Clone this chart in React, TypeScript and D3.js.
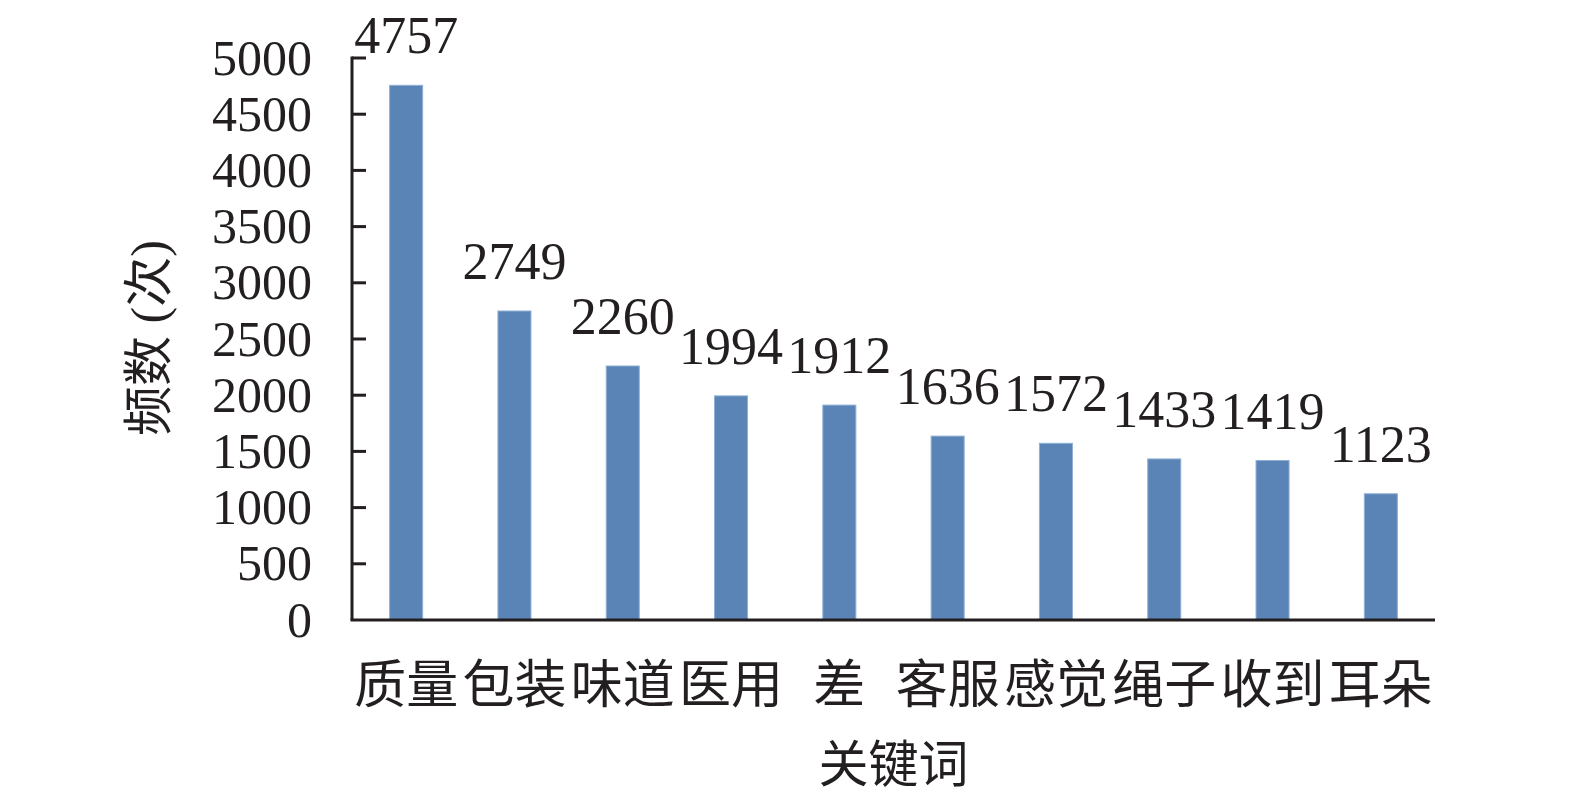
import { useMemo } from 'react';
import * as d3 from 'd3';

const categories = ['质量', '包装', '味道', '医用', '差', '客服', '感觉', '绳子', '收到', '耳朵'];
const counts = [4757, 2749, 2260, 1994, 1912, 1636, 1572, 1433, 1419, 1123];
const yTicks = [0, 500, 1000, 1500, 2000, 2500, 3000, 3500, 4000, 4500, 5000];

const WIDTH = 1575;
const HEIGHT = 801;
const PLOT = { left: 352, right: 1435, top: 58, bottom: 620 };
const BAR_COLOR = '#5a84b6';
const INK = '#231f20';
const NUM_FONT = '"Liberation Serif", "Times New Roman", serif';
const CJK_FONT = '"Liberation Serif", "Noto Sans CJK SC", serif';

export default function App() {
  const x = useMemo(
    () =>
      d3
        .scaleBand<string>()
        .domain(categories)
        .range([PLOT.left, PLOT.right])
        .paddingInner(0.695)
        .paddingOuter(0.3475),
    []
  );
  const y = useMemo(
    () => d3.scaleLinear().domain([0, 5000]).range([PLOT.bottom, PLOT.top]),
    []
  );

  return (
    <svg
      width={WIDTH}
      height={HEIGHT}
      viewBox={`0 0 ${WIDTH} ${HEIGHT}`}
      style={{ position: 'absolute', left: 0, top: 0, background: '#fff' }}
    >
      {/* bars */}
      {categories.map((c, i) => (
        <rect
          key={c}
          x={x(c)}
          y={y(counts[i])}
          width={x.bandwidth()}
          height={y(0) - y(counts[i])}
          fill={BAR_COLOR}
          stroke="#8fb0d6"
          strokeWidth={1}
        />
      ))}

      {/* value labels */}
      {categories.map((c, i) => (
        <text
          key={`v-${c}`}
          x={(x(c) ?? 0) + x.bandwidth() / 2}
          y={y(counts[i]) - 32}
          textAnchor="middle"
          fontFamily={NUM_FONT}
          fontSize={52}
          fill={INK}
        >
          {counts[i]}
        </text>
      ))}

      {/* y axis */}
      <line x1={PLOT.left} x2={PLOT.left} y1={PLOT.top - 1.5} y2={PLOT.bottom} stroke={INK} strokeWidth={3} />
      {yTicks.map((t) => (
        <g key={t}>
          {t > 0 && (
            <line x1={PLOT.left} x2={PLOT.left + 14} y1={y(t)} y2={y(t)} stroke={INK} strokeWidth={3} />
          )}
          <text
            x={PLOT.left - 40}
            y={y(t)}
            dy="0.33em"
            textAnchor="end"
            fontFamily={NUM_FONT}
            fontSize={50}
            fill={INK}
          >
            {t}
          </text>
        </g>
      ))}

      {/* x axis */}
      <line x1={PLOT.left - 1.5} x2={PLOT.right} y1={PLOT.bottom} y2={PLOT.bottom} stroke={INK} strokeWidth={3} />
      {categories.map((c) => (
        <text
          key={`c-${c}`}
          x={(x(c) ?? 0) + x.bandwidth() / 2}
          y={685}
          dominantBaseline="central"
          textAnchor="middle"
          fontFamily={CJK_FONT}
          fontSize={52}
          fill={INK}
        >
          {c}
        </text>
      ))}

      {/* axis titles */}
      <text
        x={(PLOT.left + PLOT.right) / 2}
        y={765}
        dominantBaseline="central"
        textAnchor="middle"
        fontFamily={CJK_FONT}
        fontSize={50}
        fill={INK}
      >
        关键词
      </text>
      <text
        transform={`translate(149, 338) rotate(-90)`}
        dominantBaseline="central"
        textAnchor="middle"
        fontFamily={CJK_FONT}
        fontSize={50}
        fill={INK}
      >
        频数 (次)
      </text>
    </svg>
  );
}
